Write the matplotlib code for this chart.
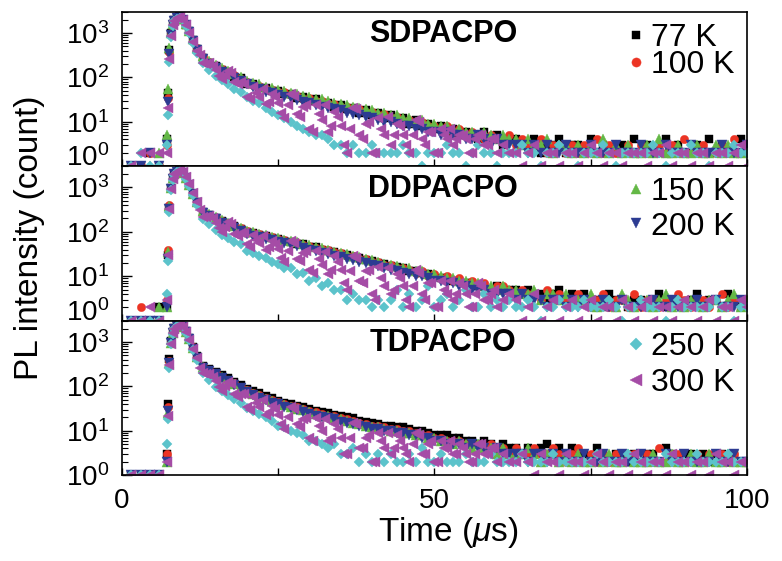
import numpy as np
import matplotlib.pyplot as plt
from matplotlib.ticker import MultipleLocator, LogLocator, NullFormatter

plt.rcParams['font.family'] = ['Liberation Sans', 'DejaVu Sans']
plt.rcParams['mathtext.fontset'] = 'custom'
plt.rcParams['mathtext.rm'] = 'Liberation Sans'
plt.rcParams['mathtext.it'] = 'Liberation Sans:italic'
plt.rcParams['mathtext.bf'] = 'Liberation Sans:bold'

# time channels (us): pre-trigger, rise / peak, then 1 us bins to the end
t_base = [1.5, 3.0, 4.5, 6.0]
t_rise = [7.2, 7.4, 7.6, 7.8, 8.1, 8.4, 8.8, 9.3, 9.8, 10.3, 10.8, 11.4, 12.0]
t_us = np.r_[t_base, t_rise, np.arange(13, 101)]
# 300 K runs were read at a finer step in the decay region
t_half = np.arange(12.5, 60, 1.0)

samples = ['SDPACPO', 'DDPACPO', 'TDPACPO']
temps = ['77 K', '100 K', '150 K', '200 K', '250 K', '300 K']
markers = ['s', 'o', '^', 'v', 'D', '<']
msizes = [5.5, 6, 7, 7, 5.5, 7.5]
colors = ['#000000', '#ec3424', '#64b846', '#2c3b92', '#5cc3cb', '#a54ca6']

# ---- SDPACPO ----
sd_77 = [1, 1, 2, 1,
         4, 45, 420, 1000, 1600, 1950, 2150, 2250, 2000, 1550, 1080, 690, 440,
         275, 215, 180, 146, 131, 104, 97, 72, 70, 59,
         58, 49, 50, 42, 43, 35, 37, 30, 32, 26,
         27, 22, 24, 19, 21, 16, 18, 14, 16, 12,
         14, 11, 12, 9, 11, 8, 9, 7, 8, 6,
         7, 5, 6, 5, 4, 6, 4, 5, 3, 4,
         4, 3, 3, 4, 2, 3, 3, 4, 2, 3,
         3, 2, 4, 2, 3, 2, 2, 3, 2, 4,
         2, 3, 2, 2, 4, 2, 3, 2, 2, 3,
         2, 4, 2, 3, 2, 2, 4, 2]
sd_100 = [1, 1, 2, 1,
          3, 35, 380, 980, 1580, 1920, 2150, 2260, 2020, 1560, 1100, 700, 450,
          285, 222, 172, 152, 125, 112, 92, 78, 66, 63,
          55, 53, 46, 46, 40, 39, 33, 34, 29, 29,
          25, 25, 22, 22, 19, 19, 16, 17, 14, 15,
          12, 13, 10, 11, 9, 10, 8, 8, 7, 8,
          6, 7, 5, 6, 5, 4, 5, 4, 4, 5,
          3, 4, 3, 3, 4, 2, 3, 3, 2, 3,
          2, 3, 2, 4, 2, 3, 2, 2, 3, 2,
          3, 2, 2, 3, 2, 3, 2, 4, 2, 2,
          3, 2, 2, 3, 2, 4, 2, 3]
sd_150 = [1, 1, 1, 2,
          5, 55, 450, 1020, 1620, 1980, 2180, 2280, 2050, 1600, 1120, 720, 470,
          300, 232, 190, 160, 140, 118, 100, 82, 76, 70,
          62, 58, 52, 50, 45, 43, 39, 37, 33, 32,
          29, 27, 25, 24, 22, 21, 19, 18, 16, 16,
          14, 14, 12, 12, 10, 11, 9, 9, 8, 8,
          7, 7, 6, 6, 5, 6, 5, 4, 5, 4,
          4, 3, 4, 3, 3, 4, 2, 3, 3, 2,
          3, 2, 3, 2, 4, 2, 3, 2, 3, 2,
          2, 3, 2, 4, 2, 2, 3, 2, 2, 3,
          2, 2, 3, 2, 3, 2, 2, 3]
sd_200 = [1, 1, 2, 1,
          3, 28, 330, 920, 1540, 1900, 2120, 2240, 1980, 1500, 1040, 650, 410,
          262, 200, 160, 135, 112, 98, 84, 70, 60, 54,
          48, 45, 40, 37, 34, 31, 28, 27, 24, 22,
          21, 19, 18, 16, 15, 14, 13, 12, 11, 10,
          10, 9, 8, 8, 7, 7, 6, 6, 5, 6,
          5, 5, 4, 4, 5, 4, 3, 4, 3, 3,
          3, 3, 2, 3, 2, 3, 2, 2, 3, 2,
          2, 2, 3, 2, 2, 2, 3, 2, 2, 2,
          3, 2, 2, 2, 3, 2, 2, 2, 3, 2,
          2, 2, 2, 3, 2, 2, 2, 3]
sd_250 = [1, 2, 1, 1,
          3, 14, 220, 800, 1450, 1850, 2100, 2220, 1940, 1450, 980, 600, 360,
          215, 150, 110, 86, 70, 56, 46, 36, 30, 26,
          21, 17, 14, 12, 10, 8, 7, 6, 5, 5,
          4, 3, 3, 2, 3, 2, 2, 3, 2, 2,
          2, 2, 3, 2, 2, 1, 2, 2, 2, 3,
          2, 2, 1, 2, 3, 2, 2, 1, 2, 2,
          2, 3, 2, 2, 1, 2, 2, 3, 2, 2,
          1, 2, 2, 2, 3, 2, 1, 2, 2, 2,
          2, 2, 3, 2, 1, 2, 2, 2, 3, 2,
          2, 1, 2, 2, 2, 3, 2, 2]
sd_300 = [1, 2, 2, 2,
          2, 20, 260, 850, 1500, 1880, 2130, 2300, 1990, 1500, 1020, 640, 400,
          215, 212, 143, 92, 136, 78, 79, 37, 60, 37,
          25, 43, 26, 12, 43, 15, 22, 7, 24, 11,
          6, 17, 8, 2, 21, 5, 9, 2, 12, 5,
          3, 9, 5, 2, 11, 4, 6, 2, 7, 4,
          3, 5, 4, 2, 5, 3, 4, 2, 3, 2,
          2, 1, 2, 3, 1, 2, 2, 1, 2, 2,
          1, 2, 3, 2, 1, 2, 2, 1, 2, 2,
          2, 1, 2, 2, 3, 1, 2, 2, 1, 2,
          2, 1, 2, 2, 1, 2, 3, 1]
sd_300_half = [320, 205, 178, 108, 115, 125, 70, 72, 32, 45,
               55, 28, 36, 16, 24, 39, 13, 24, 6, 15,
               24, 8, 13, 3, 7, 19, 4, 10, 2, 7,
               13, 5, 8, 3, 5, 10, 3, 6, 2, 5,
               7, 4, 5, 2, 4, 5, 3, 4]

# ---- DDPACPO ----
dd_77 = [1, 1, 1, 2,
         2, 30, 350, 950, 1600, 2000, 2250, 2400, 2150, 1650, 1150, 720, 460,
         280, 240, 205, 180, 152, 136, 115, 100, 94, 85,
         80, 74, 70, 62, 60, 54, 52, 46, 45, 40,
         38, 35, 32, 30, 27, 26, 23, 22, 20, 19,
         17, 16, 15, 13, 13, 12, 11, 10, 9, 9,
         8, 8, 7, 7, 6, 6, 5, 6, 5, 5,
         5, 4, 5, 4, 4, 3, 4, 5, 3, 4,
         3, 4, 3, 3, 2, 4, 3, 3, 2, 3,
         3, 2, 3, 4, 2, 3, 3, 2, 3, 4,
         2, 3, 3, 2, 4, 3, 2, 3]
dd_100 = [1, 2, 1, 1,
          3, 40, 400, 980, 1620, 2010, 2260, 2420, 2160, 1660, 1160, 730, 470,
          285, 245, 210, 178, 158, 134, 120, 102, 96, 88,
          82, 76, 69, 65, 59, 57, 51, 49, 44, 42,
          39, 36, 33, 29, 28, 25, 24, 21, 21, 18,
          18, 15, 15, 14, 12, 13, 10, 11, 9, 10,
          8, 9, 7, 8, 6, 7, 5, 6, 6, 5,
          4, 5, 4, 4, 3, 5, 3, 4, 3, 3,
          4, 3, 2, 3, 4, 2, 3, 3, 2, 4,
          2, 3, 3, 2, 3, 2, 4, 3, 2, 3,
          3, 2, 3, 4, 2, 3, 2, 3]
dd_150 = [1, 1, 1, 2,
          2, 35, 380, 960, 1610, 2000, 2250, 2410, 2150, 1650, 1150, 720, 465,
          288, 248, 214, 182, 160, 138, 121, 104, 98, 90,
          84, 77, 72, 66, 61, 58, 53, 50, 46, 43,
          40, 36, 34, 31, 28, 27, 24, 23, 21, 19,
          18, 17, 15, 15, 13, 13, 11, 11, 10, 9,
          9, 8, 8, 7, 7, 6, 6, 5, 6, 5,
          5, 4, 4, 5, 3, 4, 4, 3, 4, 3,
          3, 3, 4, 2, 3, 3, 2, 4, 3, 2,
          3, 3, 2, 3, 4, 2, 3, 2, 3, 3,
          2, 3, 3, 2, 3, 4, 2, 3]
dd_200 = [1, 1, 1, 1,
          2, 25, 320, 900, 1560, 1960, 2220, 2400, 2120, 1620, 1120, 700, 440,
          265, 225, 190, 160, 138, 120, 104, 90, 82, 75,
          70, 64, 59, 55, 50, 47, 43, 40, 37, 34,
          32, 29, 27, 25, 23, 21, 20, 18, 17, 15,
          14, 13, 12, 11, 10, 10, 9, 8, 8, 7,
          7, 6, 6, 5, 5, 5, 4, 4, 4, 4,
          3, 4, 3, 3, 3, 2, 3, 3, 2, 3,
          2, 3, 2, 2, 3, 2, 2, 3, 2, 2,
          2, 2, 3, 2, 2, 3, 2, 2, 2, 3,
          2, 2, 3, 2, 2, 2, 3, 2]
dd_250 = [1, 1, 1, 1,
          4, 22, 280, 860, 1500, 1920, 2200, 2380, 2100, 1580, 1080, 660, 400,
          195, 148, 110, 86, 74, 58, 52, 37, 34, 28,
          26, 21, 19, 15, 15, 11, 12, 8, 9, 6,
          7, 5, 5, 3, 4, 3, 3, 2, 3, 2,
          3, 5, 2, 4, 2, 3, 6, 2, 3, 4,
          2, 3, 5, 2, 2, 4, 2, 3, 2, 3,
          2, 2, 3, 2, 1, 2, 2, 3, 2, 2,
          2, 3, 2, 2, 2, 3, 2, 1, 2, 2,
          3, 2, 2, 2, 1, 2, 3, 2, 2, 2,
          2, 2, 3, 2, 2, 1, 2, 2]
dd_300 = [1, 1, 2, 1,
          3, 30, 330, 920, 1580, 1990, 2240, 2460, 2180, 1680, 1170, 740, 470,
          217, 231, 162, 100, 165, 90, 95, 52, 86, 55,
          39, 63, 42, 21, 62, 25, 34, 14, 37, 18,
          11, 28, 14, 5, 29, 8, 13, 4, 16, 6,
          4, 11, 6, 2, 14, 4, 7, 2, 8, 4,
          3, 7, 4, 2, 7, 3, 4, 2, 3, 4,
          3, 1, 2, 4, 1, 2, 3, 1, 2, 3,
          1, 2, 3, 1, 2, 2, 1, 3, 2, 1,
          2, 3, 1, 2, 2, 1, 2, 3, 2, 1,
          2, 3, 1, 2, 2, 1, 3, 2]
dd_300_half = [316, 213, 205, 120, 132, 148, 80, 94, 46, 66,
               81, 45, 54, 26, 37, 56, 22, 37, 12, 24,
               35, 14, 21, 7, 13, 26, 7, 14, 3, 9,
               15, 5, 9, 3, 6, 12, 3, 7, 2, 5,
               8, 4, 6, 2, 4, 6, 3, 5]

# ---- TDPACPO ----
td_77 = [1, 1, 1, 1,
         3, 40, 420, 1050, 1700, 2100, 2350, 2450, 2250, 1750, 1250, 780, 480,
         290, 245, 215, 178, 152, 128, 106, 88, 78, 70,
         60, 54, 47, 43, 40, 36, 34, 31, 28, 27,
         25, 23, 22, 20, 19, 17, 16, 15, 14, 13,
         13, 12, 12, 11, 10, 10, 9, 8, 8, 8,
         7, 7, 6, 6, 5, 6, 5, 4, 5, 4,
         4, 3, 4, 3, 4, 5, 3, 4, 3, 4,
         3, 3, 2, 4, 3, 2, 3, 3, 2, 3,
         2, 3, 3, 2, 4, 3, 2, 3, 3, 2,
         3, 2, 3, 3, 2, 3, 2, 2]
td_100 = [1, 1, 1, 1,
          3, 35, 380, 1000, 1650, 2050, 2300, 2420, 2200, 1700, 1200, 750, 460,
          275, 232, 200, 165, 140, 118, 98, 82, 72, 64,
          56, 49, 44, 40, 36, 34, 31, 28, 26, 24,
          22, 21, 19, 18, 17, 15, 14, 13, 13, 12,
          11, 11, 10, 10, 9, 8, 8, 7, 7, 6,
          6, 6, 5, 5, 5, 4, 5, 4, 4, 3,
          4, 3, 3, 4, 3, 3, 4, 3, 2, 3,
          4, 2, 3, 2, 3, 2, 3, 2, 3, 3,
          2, 3, 2, 4, 2, 3, 3, 2, 2, 3,
          2, 3, 2, 3, 2, 3, 2, 2]
td_150 = [1, 1, 1, 1,
          2, 25, 340, 960, 1620, 2030, 2280, 2410, 2180, 1680, 1180, 730, 450,
          268, 225, 192, 160, 135, 113, 94, 78, 68, 60,
          52, 46, 41, 38, 34, 31, 29, 26, 24, 22,
          21, 19, 18, 17, 15, 14, 13, 12, 12, 11,
          10, 10, 9, 9, 8, 8, 7, 7, 6, 6,
          5, 6, 5, 4, 5, 4, 4, 3, 4, 3,
          3, 3, 4, 3, 2, 3, 3, 2, 3, 2,
          3, 2, 2, 3, 2, 3, 2, 2, 3, 2,
          2, 2, 3, 2, 2, 3, 2, 2, 3, 2,
          2, 3, 2, 2, 3, 2, 2, 2]
td_200 = [1, 1, 1, 1,
          2, 28, 330, 950, 1600, 2000, 2260, 2400, 2160, 1650, 1150, 710, 440,
          262, 220, 186, 155, 130, 108, 90, 74, 64, 56,
          49, 43, 39, 35, 32, 29, 27, 24, 22, 20,
          19, 18, 16, 15, 14, 13, 12, 11, 11, 10,
          10, 9, 9, 8, 8, 7, 7, 6, 6, 5,
          5, 5, 4, 5, 4, 4, 3, 4, 3, 3,
          3, 3, 2, 3, 3, 2, 3, 2, 3, 2,
          2, 3, 2, 2, 3, 2, 2, 3, 2, 2,
          3, 2, 2, 2, 3, 2, 2, 3, 2, 2,
          2, 2, 3, 2, 2, 3, 2, 2]
td_250 = [1, 1, 1, 1,
          5, 18, 260, 880, 1540, 1960, 2230, 2380, 2120, 1600, 1100, 660, 400,
          200, 140, 98, 80, 64, 52, 42, 33, 28, 24,
          20, 17, 13, 12, 10, 9, 8, 6, 6, 5,
          4, 5, 3, 3, 4, 2, 3, 2, 3, 2,
          3, 2, 2, 3, 2, 4, 2, 2, 3, 2,
          2, 2, 3, 2, 2, 2, 3, 2, 2, 2,
          2, 3, 2, 2, 2, 2, 3, 2, 2, 2,
          2, 2, 2, 3, 2, 2, 2, 2, 3, 2,
          2, 2, 2, 2, 3, 2, 2, 2, 2, 3,
          2, 2, 2, 2, 3, 2, 2, 2]
td_300 = [1, 1, 1, 1,
          2, 22, 300, 900, 1560, 1980, 2250, 2440, 2160, 1640, 1130, 700, 430,
          198, 190, 134, 78, 128, 66, 68, 35, 57, 35,
          23, 37, 23, 11, 35, 14, 18, 7, 19, 10,
          6, 14, 7, 3, 15, 4, 7, 2, 9, 4,
          3, 8, 4, 2, 9, 3, 5, 2, 6, 4,
          3, 5, 3, 2, 5, 3, 4, 2, 3, 2,
          2, 3, 2, 1, 3, 2, 2, 1, 3, 2,
          2, 1, 2, 3, 2, 1, 2, 2, 1, 3,
          2, 1, 2, 2, 1, 3, 2, 2, 1, 2,
          2, 1, 3, 2, 2, 1, 2, 2]
td_300_half = [253, 185, 166, 97, 101, 114, 57, 67, 30, 43,
               50, 26, 31, 14, 20, 31, 12, 19, 6, 13,
               18, 7, 11, 3, 7, 14, 4, 8, 2, 6,
               9, 4, 6, 3, 5, 8, 3, 6, 2, 4,
               6, 3, 4, 2, 3, 5, 3, 4]

counts = {
    'SDPACPO': [sd_77, sd_100, sd_150, sd_200, sd_250, sd_300],
    'DDPACPO': [dd_77, dd_100, dd_150, dd_200, dd_250, dd_300],
    'TDPACPO': [td_77, td_100, td_150, td_200, td_250, td_300],
}
counts_300_half = {'SDPACPO': sd_300_half, 'DDPACPO': dd_300_half, 'TDPACPO': td_300_half}

fig, axes = plt.subplots(3, 1, sharex=True, figsize=(7.82, 5.61), dpi=100)
fig.subplots_adjust(left=0.156, right=0.955, bottom=0.153, top=0.979, hspace=0)

leg_spacing = [-0.09, 0.13, 0.19]

for i, (ax, name) in enumerate(zip(axes, samples)):
    handles = []
    for j, c in enumerate(counts[name]):
        t, y = t_us, np.asarray(c)
        if j == 5:
            t = np.r_[t_us, t_half]
            y = np.r_[y, counts_300_half[name]]
        h, = ax.plot(t, y, linestyle='none', marker=markers[j], ms=msizes[j],
                     mfc=colors[j], mec=colors[j], mew=0.3, label=temps[j])
        handles.append(h)

    ax.set_yscale('log')
    ax.set_ylim(1, 3000)
    ax.set_xlim(0, 100)
    ax.yaxis.set_major_locator(LogLocator(base=10, numticks=10))
    ax.yaxis.set_minor_locator(LogLocator(base=10, subs=np.arange(2, 10), numticks=10))
    ax.yaxis.set_minor_formatter(NullFormatter())
    ax.xaxis.set_major_locator(MultipleLocator(50))
    ax.xaxis.set_minor_locator(MultipleLocator(25))
    ax.tick_params(which='both', direction='in', top=False, right=False, labelsize=20)
    ax.tick_params(axis='y', which='major', length=7, width=1, pad=9)
    ax.tick_params(axis='y', which='minor', length=4, width=0.8)
    ax.tick_params(axis='x', which='both', length=5, width=1, pad=9)
    for sp in ax.spines.values():
        sp.set_linewidth(1.2)

    ax.text(0.514, 0.855, name, transform=ax.transAxes, ha='center', va='center',
            fontsize=22, fontweight='bold')

    ax.legend(handles=handles[2 * i:2 * i + 2], loc='upper left',
              bbox_to_anchor=(0.79, 1.01), frameon=False, fontsize=23,
              handlelength=0.5, handletextpad=0.2, borderaxespad=0,
              labelspacing=leg_spacing[i], markerscale=1.1)

fig.text(0.038, 0.576, 'PL intensity (count)', rotation=90, fontsize=24,
         ha='center', va='center')
fig.text(0.573, 0.05, r'Time ($\mu$s)', fontsize=24, ha='center', va='center')

# lift the 10^0 labels of the upper two panels so they clear the panel below
fig.canvas.draw()
for ax in axes[:2]:
    for tick in ax.yaxis.get_major_ticks():
        if np.isclose(tick.get_loc(), 1.0):
            tick.label1.set_verticalalignment('baseline')

fig.savefig('out.png', dpi=100)
